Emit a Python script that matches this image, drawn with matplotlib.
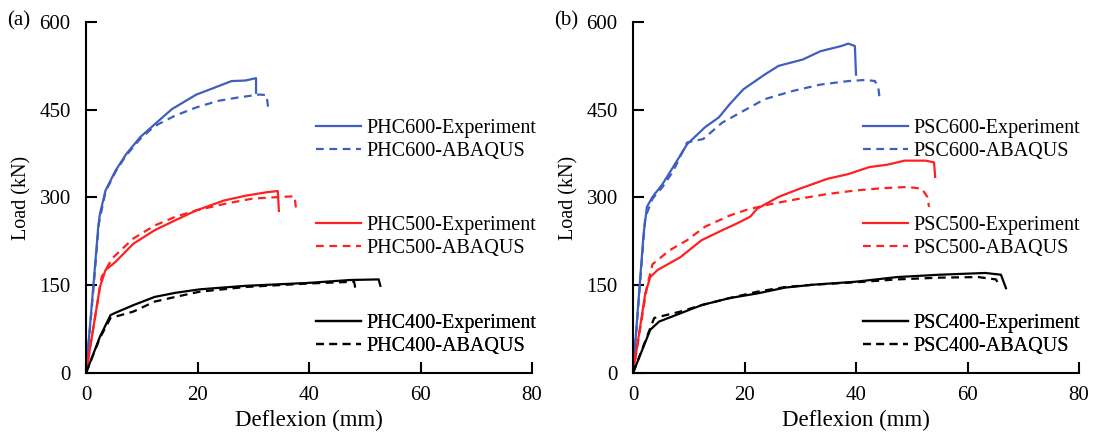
import matplotlib.pyplot as plt

plt.rcParams['font.family'] = ['Liberation Serif', 'DejaVu Serif']

BLUE = '#3f5fbf'
RED = '#ff2020'
BLACK = '#000000'

# ---- (a) PHC piles ----
phc600_exp_x = [0, 1.3, 2.2, 2.5, 3.5, 5.3, 7.2, 9.7, 12.3, 15.4, 19.8, 22.3, 26.1, 28.6, 30.5, 30.5]
phc600_exp_y = [0, 147, 250, 272, 312, 346, 374, 403, 425, 451, 476, 485, 499, 500, 504, 479]
phc600_aba_x = [0, 1.3, 2.3, 3.5, 5.3, 7.2, 9.7, 12.3, 16.0, 19.8, 23.6, 27.3, 31.1, 32.4, 32.7]
phc600_aba_y = [0, 140, 255, 310, 344, 372, 400, 422, 440, 454, 465, 471, 476, 475, 451]

phc500_exp_x = [0, 2.5, 3.5, 5.3, 8.5, 12.3, 16.0, 19.8, 24.8, 28.6, 32.4, 34.4, 34.6]
phc500_exp_y = [0, 147, 176, 190, 221, 244, 261, 278, 295, 303, 309, 311, 277]
phc500_aba_x = [0, 2.8, 4.7, 8.5, 12.3, 16.0, 19.8, 24.8, 29.8, 34.9, 37.4, 37.7]
phc500_aba_y = [0, 164, 196, 230, 252, 267, 278, 289, 298, 301, 302, 279]

phc400_exp_x = [0, 2.5, 4.4, 5.3, 8.5, 12.3, 16.0, 20.4, 28.6, 39.9, 47.4, 52.5, 52.8]
phc400_exp_y = [0, 62, 99, 103, 116, 130, 137, 143, 149, 154, 159, 160, 149]
phc400_aba_x = [0, 2.5, 4.4, 8.5, 12.3, 16.0, 20.4, 28.6, 39.9, 48.1, 48.4]
phc400_aba_y = [0, 60, 94, 105, 122, 130, 139, 147, 153, 156, 139]

# ---- (b) PSC piles ----
psc600_exp_x = [0, 1.9, 2.5, 3.5, 5.3, 7.2, 9.7, 12.9, 15.4, 17.3, 19.8, 23.6, 26.1, 30.5, 33.6, 37.4, 38.6, 39.8, 40.0]
psc600_exp_y = [0, 238, 284, 301, 323, 352, 391, 420, 437, 459, 485, 510, 525, 536, 550, 559, 563, 559, 510]
psc600_aba_x = [0, 2.2, 3.5, 5.3, 7.2, 9.7, 12.6, 16.0, 19.8, 23.6, 28.6, 33.6, 38.6, 41.8, 43.4, 44.0, 44.3]
psc600_aba_y = [0, 266, 298, 318, 345, 394, 400, 428, 448, 468, 482, 493, 499, 501, 499, 488, 465]

psc500_exp_x = [0, 2.2, 3.1, 4.4, 8.5, 12.3, 16.0, 18.5, 21.0, 22.3, 26.1, 29.9, 34.9, 38.6, 42.4, 45.6, 48.7, 52.5, 54.0, 54.2]
psc500_exp_y = [0, 136, 164, 176, 198, 227, 244, 255, 267, 281, 301, 315, 332, 340, 352, 356, 363, 363, 360, 335]
psc500_aba_x = [0, 2.5, 3.5, 6.6, 9.7, 12.9, 17.3, 20.4, 24.8, 29.9, 34.9, 39.9, 44.9, 49.3, 51.8, 52.8, 53.1]
psc500_aba_y = [0, 147, 186, 210, 227, 250, 269, 279, 289, 298, 306, 312, 316, 318, 315, 301, 284]

psc400_exp_x = [0, 3.1, 4.7, 8.5, 12.3, 17.3, 22.3, 27.3, 32.4, 39.9, 47.4, 55.0, 63.2, 66.0, 66.9]
psc400_exp_y = [0, 74, 88, 102, 116, 128, 136, 146, 151, 156, 164, 168, 171, 168, 145]
psc400_aba_x = [0, 3.1, 3.8, 8.5, 12.3, 17.3, 22.3, 27.3, 32.4, 39.9, 47.4, 55.0, 61.9, 65.1, 65.7]
psc400_aba_y = [0, 77, 94, 105, 116, 128, 139, 147, 151, 155, 160, 163, 164, 160, 150]

x_ticks = [0, 20, 40, 60, 80]
y_ticks = [0, 150, 300, 450, 600]

panels = [
    ('(a)', 'PHC', [
        (600, BLUE, phc600_exp_x, phc600_exp_y, phc600_aba_x, phc600_aba_y),
        (500, RED, phc500_exp_x, phc500_exp_y, phc500_aba_x, phc500_aba_y),
        (400, BLACK, phc400_exp_x, phc400_exp_y, phc400_aba_x, phc400_aba_y),
    ]),
    ('(b)', 'PSC', [
        (600, BLUE, psc600_exp_x, psc600_exp_y, psc600_aba_x, psc600_aba_y),
        (500, RED, psc500_exp_x, psc500_exp_y, psc500_aba_x, psc500_aba_y),
        (400, BLACK, psc400_exp_x, psc400_exp_y, psc400_aba_x, psc400_aba_y),
    ]),
]

fig = plt.figure(figsize=(10.96, 4.36), dpi=100)
W, H = 1096, 436
lefts = [86, 633]
legend_y = [0.663, 0.387, 0.109]

for (tag, prefix, groups), left in zip(panels, lefts):
    ax = fig.add_axes([left / W, (H - 373) / H, 446 / W, 351 / H])
    for i, (size, col, ex, ey, axx, ayy) in enumerate(groups):
        l1, = ax.plot(ex, ey, color=col, lw=1.6, label=f'{prefix}{size}-Experiment')
        l2, = ax.plot(axx, ayy, color=col, lw=1.6, ls=(0, (3.5, 2.5)), label=f'{prefix}{size}-ABAQUS')
        leg = ax.legend(handles=[l1, l2], loc='center left', bbox_to_anchor=(0.516, legend_y[i]),
                        frameon=False, fontsize=14.5, handlelength=2.25, handletextpad=0.25,
                        labelspacing=0.2, borderpad=0, borderaxespad=0)
        ax.add_artist(leg)
    ax.set_xlim(0, 80)
    ax.set_ylim(0, 600)
    ax.set_xticks(x_ticks)
    ax.set_yticks(y_ticks)
    ax.spines['top'].set_visible(False)
    ax.spines['right'].set_visible(False)
    for s in ['left', 'bottom']:
        ax.spines[s].set_linewidth(1.5)
    ax.tick_params(axis='y', direction='in', length=8, width=1.5, labelsize=15, pad=11)
    ax.tick_params(axis='x', direction='in', length=8, width=1.5, labelsize=15, pad=9)
    ax.set_xlabel('Deflexion (mm)', fontsize=16.5, labelpad=4)
    ax.set_ylabel('Load (kN)', fontsize=14.5, labelpad=6)
    fig.text((left - 79) / W, 1 - 21 / H, tag, fontsize=15, va='center', ha='left')

fig.savefig('out.png', dpi=100)
